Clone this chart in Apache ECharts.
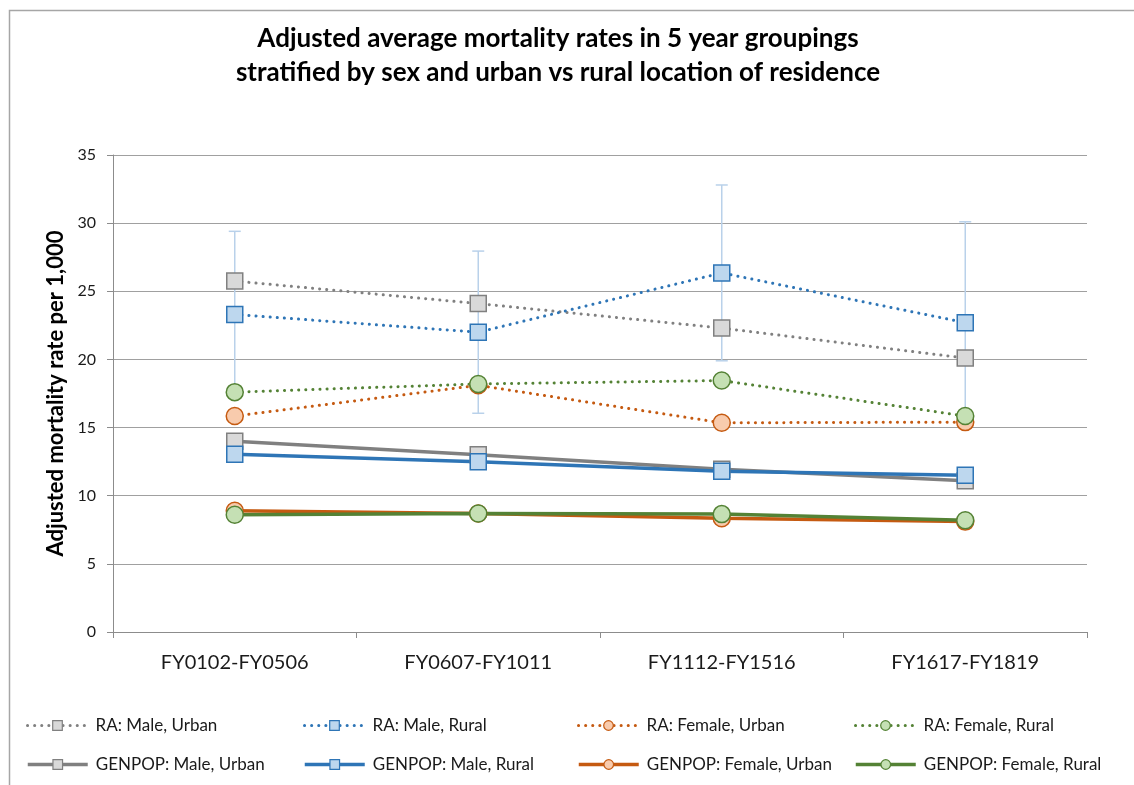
<!DOCTYPE html>
<html>
<head>
<meta charset="utf-8">
<script src="https://cdn.jsdelivr.net/npm/echarts@6/dist/echarts.min.js"></script>
<style>
  html, body { margin: 0; padding: 0; background: #fff; }
  #chart { width: 1134px; height: 785px; }
</style>
</head>
<body>
<div id="chart"></div>
<script>
// Five-year groupings on the category axis
const periods = ['FY0102-FY0506', 'FY0607-FY1011', 'FY1112-FY1516', 'FY1617-FY1819'];

// Adjusted mortality rate per 1,000
const raMaleUrban      = [25.75, 24.1, 22.3, 20.1];
const raMaleRural      = [23.3, 22.0, 26.35, 22.7];
const raFemaleUrban    = [15.85, 18.1, 15.35, 15.4];
const raFemaleRural    = [17.6, 18.2, 18.45, 15.85];
const genMaleUrban     = [14.0, 13.0, 11.95, 11.1];
const genMaleRural     = [13.05, 12.5, 11.8, 11.5];
const genFemaleUrban   = [8.9, 8.7, 8.35, 8.1];
const genFemaleRural   = [8.6, 8.7, 8.65, 8.2];

// Error margin (±) around RA: Male, Rural
const raMaleRuralErr   = [6.1, 5.95, 6.45, 7.4];

const yTicks = { min: 0, max: 35, interval: 5 };

const FONT = 'Lato, "Open Sans", sans-serif';

const palette = {
  grey:   { line: '#808080', fill: '#d9d9d9' },
  blue:   { line: '#2e75b6', fill: '#bdd7ee' },
  orange: { line: '#c55a11', fill: '#f8cbad' },
  green:  { line: '#548235', fill: '#c5e0b4' }
};

function dottedStyle(color) {
  return { color: color, width: 3, type: [0.1, 7], cap: 'round' };
}
function solidStyle(color) {
  return { color: color, width: 3.5 };
}

function lineSeries(name, data, col, dotted, symbol) {
  return {
    name: name,
    type: 'line',
    data: data,
    symbol: symbol,
    symbolSize: symbol === 'rect' ? 16 : 17,
    z: 3,
    itemStyle: { color: col.fill, borderColor: col.line, borderWidth: 1.5 },
    lineStyle: dotted ? dottedStyle(col.line) : solidStyle(col.line),
    emphasis: { disabled: true },
    animation: false
  };
}

const errData = periods.map((p, i) => [i, raMaleRural[i] - raMaleRuralErr[i], raMaleRural[i] + raMaleRuralErr[i]]);

const seriesDefs = [
  ['RA: Male, Urban', raMaleUrban, palette.grey, true, 'rect'],
  ['RA: Male, Rural', raMaleRural, palette.blue, true, 'rect'],
  ['RA: Female, Urban', raFemaleUrban, palette.orange, true, 'circle'],
  ['RA: Female, Rural', raFemaleRural, palette.green, true, 'circle'],
  ['GENPOP: Male, Urban', genMaleUrban, palette.grey, false, 'rect'],
  ['GENPOP: Male, Rural', genMaleRural, palette.blue, false, 'rect'],
  ['GENPOP: Female, Urban', genFemaleUrban, palette.orange, false, 'circle'],
  ['GENPOP: Female, Rural', genFemaleRural, palette.green, false, 'circle']
];

const series = [
  {
    name: 'errorbar',
    type: 'custom',
    z: 2,
    silent: true,
    animation: false,
    data: errData,
    renderItem: function (params, api) {
      const lo = api.coord([api.value(0), api.value(1)]);
      const hi = api.coord([api.value(0), api.value(2)]);
      const hw = 6;
      const st = { stroke: '#b9d1ea', lineWidth: 1.5 };
      return {
        type: 'group',
        children: [
          { type: 'line', shape: { x1: lo[0], y1: lo[1], x2: hi[0], y2: hi[1] }, style: st },
          { type: 'line', shape: { x1: hi[0] - hw, y1: hi[1], x2: hi[0] + hw, y2: hi[1] }, style: st },
          { type: 'line', shape: { x1: lo[0] - hw, y1: lo[1], x2: lo[0] + hw, y2: lo[1] }, style: st }
        ]
      };
    }
  }
].concat(seriesDefs.map(d => lineSeries(d[0], d[1], d[2], d[3], d[4])));

// Legend: two rows of four, each entry placed in its own column
const legendCols = [26, 303, 577, 854];
const legendRows = [717, 756];
const legends = seriesDefs.map((d, i) => ({
  data: [d[0]],
  left: legendCols[i % 4],
  top: legendRows[Math.floor(i / 4)],
  itemWidth: 60,
  itemHeight: 12,
  itemGap: 0,
  padding: 0,
  selectedMode: false,
  lineStyle: d[3] ? dottedStyle(d[2].line) : solidStyle(d[2].line),
  itemStyle: { color: d[2].fill, borderColor: d[2].line, borderWidth: 1.2 },
  textStyle: { fontFamily: FONT, fontSize: 17, color: '#1a1a1a', padding: [0, 0, 0, 3] }
}));

const chart = echarts.init(document.getElementById('chart'), null, { renderer: 'canvas' });
chart.setOption({
  backgroundColor: '#fff',
  animation: false,
  title: {
    text: 'Adjusted average mortality rates in 5 year groupings\nstratified by sex and urban vs rural location of residence',
    left: 553,
    textAlign: 'center',
    top: 17,
    textStyle: { fontFamily: FONT, fontSize: 26, fontWeight: 'bold', color: '#000', lineHeight: 34 }
  },
  graphic: [{
    type: 'rect',
    shape: { x: 9.5, y: 10.5, width: 1300, height: 900 },
    style: { fill: null, stroke: '#a6a6a6', lineWidth: 1.5 },
    silent: true
  }],
  legend: legends,
  grid: { left: 113, right: 47, top: 155, bottom: 153, containLabel: false },
  xAxis: {
    type: 'category',
    data: periods,
    boundaryGap: true,
    axisLine: { lineStyle: { color: '#8c8c8c', width: 1 } },
    axisTick: { show: true, length: 6, inside: false, alignWithLabel: false, lineStyle: { color: '#8c8c8c' } },
    axisLabel: { fontFamily: FONT, fontSize: 20, color: '#1a1a1a', margin: 21 },
    splitLine: { show: false }
  },
  yAxis: {
    type: 'value',
    min: yTicks.min,
    max: yTicks.max,
    interval: yTicks.interval,
    name: 'Adjusted mortality rate per 1,000',
    nameLocation: 'middle',
    nameGap: 45,
    nameRotate: 90,
    nameTextStyle: { fontFamily: FONT, fontSize: 22, fontWeight: 'bold', color: '#000' },
    axisLine: { show: true, lineStyle: { color: '#8c8c8c', width: 1 } },
    axisTick: { show: true, length: 6, lineStyle: { color: '#8c8c8c' } },
    axisLabel: { fontFamily: FONT, fontSize: 16, color: '#1a1a1a', margin: 17 },
    splitLine: { lineStyle: { color: '#a0a0a0', width: 1 } }
  },
  series: series
});
</script>
</body>
</html>
